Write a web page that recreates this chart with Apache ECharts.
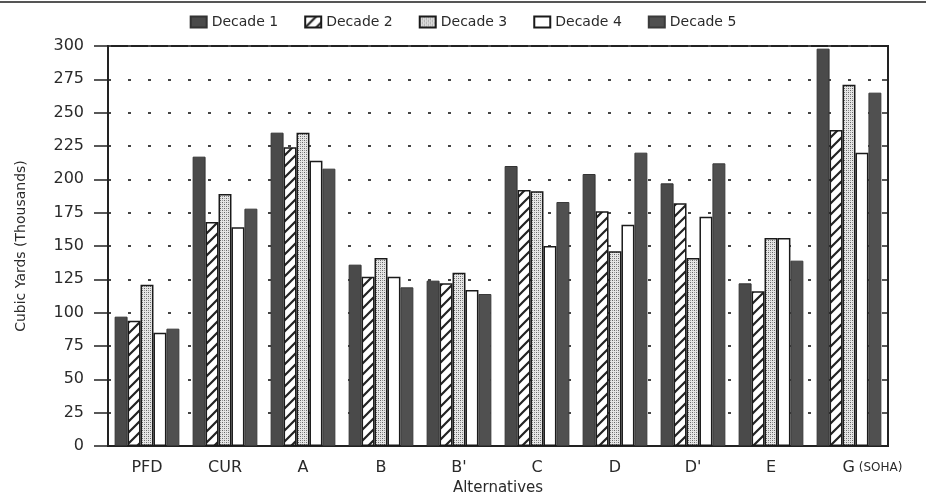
<!DOCTYPE html>
<html>
<head>
<meta charset="utf-8">
<script src="https://cdn.jsdelivr.net/npm/echarts@6/dist/echarts.min.js"></script>
<style>
  html, body { margin: 0; padding: 0; background: #fff; }
  #main { width: 926px; height: 496px; }
</style>
</head>
<body>
<div id="main"></div>
<script>
// categories and values (thousands of cubic yards)
var alternatives = ['PFD', 'CUR', 'A', 'B', "B'", 'C', 'D', "D'", 'E', 'G'];
var decade1 = [97, 217, 235, 136, 124, 210, 204, 197, 122, 298];
var decade2 = [94, 168, 224, 127, 122, 192, 176, 182, 116, 237];
var decade3 = [121, 189, 235, 141, 130, 191, 146, 141, 156, 271];
var decade4 = [85, 164, 214, 127, 117, 150, 166, 172, 156, 220];
var decade5 = [88, 178, 208, 119, 114, 183, 220, 212, 139, 265];
var seriesNames = ['Decade 1', 'Decade 2', 'Decade 3', 'Decade 4', 'Decade 5'];

var FONT = 'DejaVu Sans';
var INK = '#2a2a2a';

// hatch pattern for decade 2
function hatchPattern() {
    var c = document.createElement('canvas');
    c.width = 11; c.height = 11;
    var g = c.getContext('2d');
    g.fillStyle = '#fff';
    g.fillRect(0, 0, 11, 11);
    g.strokeStyle = '#222';
    g.lineWidth = 2.2;
    g.beginPath();
    g.moveTo(-2, 13); g.lineTo(13, -2);
    g.moveTo(-3, 3); g.lineTo(3, -3);
    g.moveTo(8, 14); g.lineTo(14, 8);
    g.stroke();
    return c;
}

// stipple pattern for decade 3
function dotPattern() {
    var c = document.createElement('canvas');
    c.width = 4; c.height = 4;
    var g = c.getContext('2d');
    g.fillStyle = '#e6e6e6';
    g.fillRect(0, 0, 4, 4);
    g.fillStyle = '#666';
    g.fillRect(0, 0, 1, 1);
    g.fillRect(2, 2, 1, 1);
    g.fillStyle = '#999';
    g.fillRect(2, 0, 1, 1);
    g.fillRect(0, 2, 1, 1);
    return c;
}

var styles = [
    { color: '#4a4a4a', borderColor: '#333', borderWidth: 1 },
    { color: { image: hatchPattern(), repeat: 'repeat' }, borderColor: '#1a1a1a', borderWidth: 1.5 },
    { color: { image: dotPattern(), repeat: 'repeat' }, borderColor: '#1a1a1a', borderWidth: 1.5 },
    { color: '#ffffff', borderColor: '#1a1a1a', borderWidth: 1.5 },
    { color: '#505050', borderColor: '#3a3a3a', borderWidth: 1 }
];
var values = [decade1, decade2, decade3, decade4, decade5];

var series = values.map(function (v, i) {
    return {
        name: seriesNames[i],
        type: 'bar',
        data: v,
        barGap: '0%',
        barCategoryGap: '17%',
        itemStyle: styles[i],
        z: 3
    };
});

var myChart = echarts.init(document.getElementById('main'));

var option = {
    animation: false,
    backgroundColor: '#fff',
    textStyle: { fontFamily: FONT, color: INK },
    graphic: [{
        type: 'line',
        shape: { x1: 0, y1: 2, x2: 926, y2: 2 },
        style: { stroke: '#555', lineWidth: 2 }
    }],
    legend: {
        top: 10,
        left: 'center',
        icon: 'rect',
        itemWidth: 16,
        itemHeight: 11,
        itemGap: 26,
        textStyle: { fontFamily: FONT, fontSize: 14, color: INK },
        data: seriesNames
    },
    grid: {
        left: 108,
        right: 38,
        top: 46,
        bottom: 50,
        outerBoundsMode: 'none',
        show: true,
        borderColor: '#222',
        borderWidth: 2
    },
    xAxis: {
        type: 'category',
        data: alternatives,
        name: 'Alternatives',
        nameLocation: 'middle',
        nameGap: 35,
        nameTextStyle: { fontFamily: FONT, fontSize: 15, color: INK },
        axisLine: { lineStyle: { color: '#222', width: 2 } },
        axisTick: { alignWithLabel: true, length: 6, lineStyle: { color: '#222', width: 1.5 } },
        axisLabel: {
            interval: 0,
            fontSize: 16,
            color: INK,
            margin: 14,
            formatter: function (v) {
                return v === 'G' ? '{g|G}{s| (SOHA)}' : v;
            },
            rich: {
                g: { fontSize: 16, fontFamily: FONT, color: INK, padding: [0, 0, 0, 47] },
                s: { fontSize: 12, fontFamily: FONT, color: INK }
            }
        }
    },
    yAxis: [{
        type: 'value',
        min: 0,
        max: 300,
        interval: 25,
        name: 'Cubic Yards (Thousands)',
        nameLocation: 'middle',
        nameGap: 80,
        nameTextStyle: { fontFamily: FONT, fontSize: 14, color: INK },
        axisLine: { show: true, lineStyle: { color: '#222', width: 2 } },
        axisTick: { show: true, length: 14, lineStyle: { color: '#222', width: 1.5 } },
        axisLabel: { fontSize: 16, color: INK, margin: 24 },
        splitLine: { show: true, lineStyle: { color: '#444', width: 2, type: [3, 17] } }
    }, {
        type: 'value',
        min: 0,
        max: 300,
        interval: 25,
        position: 'right',
        axisLine: { show: true, lineStyle: { color: '#222', width: 2 } },
        axisTick: { show: true, inside: true, length: 6, lineStyle: { color: '#222', width: 1.5 } },
        axisLabel: { show: false },
        splitLine: { show: false }
    }],
    series: series
};

myChart.setOption(option);
</script>
</body>
</html>
